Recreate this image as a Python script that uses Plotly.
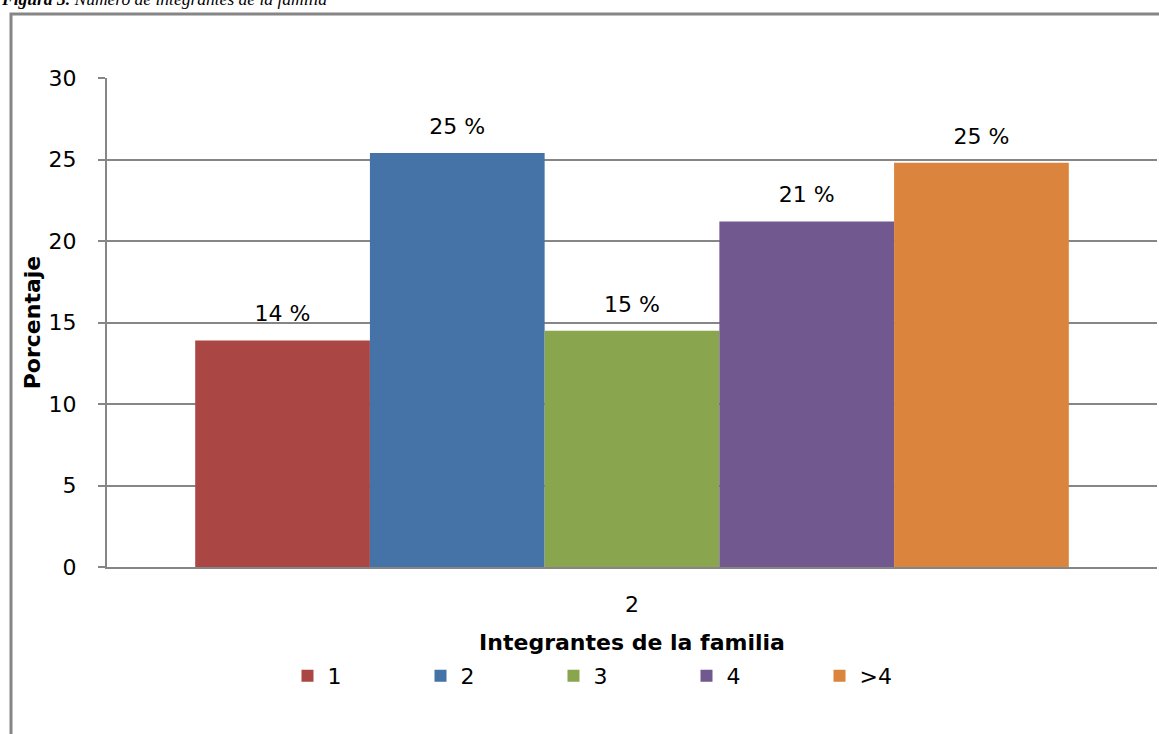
import plotly.graph_objects as go

# ---- data ----
categories = ["2"]
series_names = ["1", "2", "3", "4", ">4"]
values = [13.9, 25.4, 14.5, 21.2, 24.8]
labels = ["14 %", "25 %", "15 %", "21 %", "25 %"]
colors = ["#AA4643", "#4572A7", "#89A54E", "#71588F", "#DB843D"]
y_ticks = [0, 5, 10, 15, 20, 25, 30]

W, H = 1159, 734
L, R, T, B = 107, 2, 78, 167
pw, ph = W - L - R, H - T - B

def px_x(p):
    return (p - L) / pw

def px_y(p):
    return (H - B - p) / ph

FONT = "DejaVu Sans"
GRID = "#868686"
GAP = 0.168

fig = go.Figure()
for i, (name, v, c) in enumerate(zip(series_names, values, colors)):
    fig.add_trace(go.Bar(
        x=categories, y=[v], name=name, offsetgroup=str(i),
        marker=dict(color=c, line=dict(width=0)),
        hoverinfo="skip",
    ))
# data labels, aligned with the bars via grouped scatter
for i, (name, v, lab) in enumerate(zip(series_names, values, labels)):
    fig.add_trace(go.Scatter(
        x=categories, y=[v], offsetgroup=str(i), mode="markers+text",
        text=[lab], textposition="top center",
        marker=dict(size=20, opacity=0),
        textfont=dict(family=FONT, size=22, color="black"),
        showlegend=False, hoverinfo="skip", cliponaxis=False,
    ))

fig.update_layout(
    width=W, height=H,
    margin=dict(l=L, r=R, t=T, b=B),
    paper_bgcolor="white", plot_bgcolor="white",
    barmode="group", bargap=GAP, bargroupgap=0,
    scattermode="group", scattergap=GAP,
    font=dict(family=FONT, color="black"),
    showlegend=True,
    legend=dict(orientation="h", x=px_x(620), xanchor="center",
                y=px_y(676), yanchor="middle",
                font=dict(family=FONT, size=22),
                entrywidth=88, entrywidthmode="pixels",
                itemclick=False),
    xaxis=dict(
        type="category", range=[-0.5, 0.5],
        showgrid=False, showline=True, linecolor=GRID, linewidth=2,
        ticks="", tickfont=dict(family=FONT, size=22),
        ticklabelstandoff=17,
        title=dict(text="<b>Integrantes de la familia</b>",
                   font=dict(family=FONT, size=22), standoff=18),
    ),
    yaxis=dict(
        range=[0, 30], tickvals=y_ticks,
        showgrid=True, gridcolor=GRID, gridwidth=2,
        showline=True, linecolor=GRID, linewidth=2,
        ticks="outside", ticklen=7, tickwidth=2, tickcolor=GRID,
        tickfont=dict(family=FONT, size=22),
        ticklabelstandoff=17,
        zeroline=False,
        title=dict(text="<b>Porcentaje</b>",
                   font=dict(family=FONT, size=22), standoff=2),
    ),
)

# outer chart frame (left and top edges visible)
fig.add_shape(type="path", xref="paper", yref="paper",
              path=f"M {px_x(11)},{px_y(740)} L {px_x(11)},{px_y(14)} L {px_x(1170)},{px_y(14)}",
              line=dict(color=GRID, width=3))

# caption cut off at top of page
fig.add_annotation(xref="paper", yref="paper", x=px_x(-1), y=px_y(11),
                   xanchor="left", yanchor="bottom", showarrow=False,
                   text="<b><i>Figura 3.</i></b><i> Número de integrantes de la familia</i>",
                   font=dict(family="Liberation Serif", size=17.5, color="black"))

fig.write_html(
    "out.html",
    config={"displayModeBar": False},
    post_script="document.body.style.margin='0';document.documentElement.style.overflow='hidden';document.body.style.overflow='hidden';",
)
